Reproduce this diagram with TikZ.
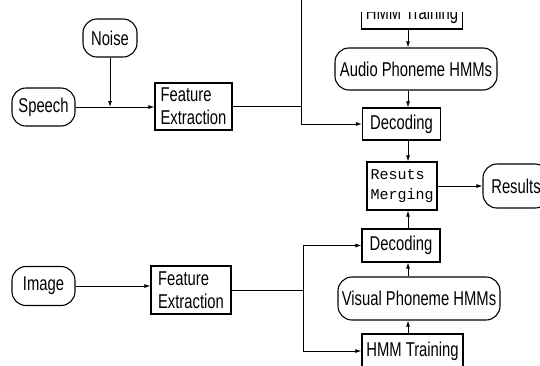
\documentclass[tikz,border=0pt]{standalone}
\usepackage{fontspec}
\setmainfont{Liberation Sans}[FakeStretch=0.74]
\setmonofont{Liberation Mono}
\usetikzlibrary{arrows.meta}
\tikzset{
  blk/.style={draw, line width=1.1pt, inner sep=0pt, font=\fontsize{20}{23}\selectfont},
  rnd/.style={blk, rounded corners=14pt},
  lnk/.style={line width=0.9pt},
  arr/.style={lnk, -{Latex[length=6pt,width=4pt]}}
}
\begin{document}
\begin{tikzpicture}[x=1pt,y=-1pt]
    \useasboundingbox (0,0) rectangle (540,365);
    \clip (0,0) rectangle (540,365);
    \fill[white] (0,0) rectangle (540,365);
    % speech side
    \node[rnd, minimum width=54pt, minimum height=38pt] (noise) at (110,38) {Noise};
    \node[rnd, minimum width=63pt, minimum height=38pt] (speech) at (43.5,107) {Speech};
    \node[blk, minimum width=77pt, minimum height=47pt, align=left] (fe1) at (193.5,106.5) {Feature\\Extraction};
    \begin{scope}
        \clip (0,12) rectangle (540,365);
        \node[blk, minimum width=101pt, minimum height=30pt] (htop) at (412,14) {HMM Training};
    \end{scope}
    \node[rnd, minimum width=162pt, minimum height=42pt] (audio) at (416,69) {Audio Phoneme HMMs};
    \node[blk, minimum width=78pt, minimum height=32pt] (dec1) at (401.5,124) {Decoding};
    % merging
    \node[blk, minimum width=70pt, minimum height=48pt, align=left, font=\ttfamily\fontsize{15}{20}\selectfont] (merge) at (402,186) {Resuts\\Merging};
    \node[rnd, minimum width=66pt, minimum height=44pt] (results) at (516,186) {Results};
    % image side
    \node[rnd, minimum width=63pt, minimum height=39pt] (image) at (43.5,286) {Image};
    \node[blk, minimum width=80pt, minimum height=48pt, align=left] (fe2) at (191,290) {Feature\\Extraction};
    \node[blk, minimum width=78pt, minimum height=33pt] (dec2) at (401,245.5) {Decoding};
    \node[rnd, minimum width=162pt, minimum height=43pt] (visual) at (419,298.5) {Visual Phoneme HMMs};
    \node[blk, minimum width=101pt, minimum height=34pt] (hbot) at (412.5,351) {HMM Training};
    % connectors
    \coordinate (col) at (408,0);
    \coordinate (ta) at (301,0);
    \coordinate (tb) at (303,0);
    \draw[arr] (speech.east) -- (speech.east -| fe1.west);
    \draw[arr] (noise.south) -- (noise.south |- speech.east);
    \draw[lnk] (fe1.east) -| (ta);
    \draw[arr] (fe1.east -| ta) |- (dec1.west);
    \draw[arr] (htop.south -| col) -- (audio.north -| col);
    \draw[arr] (audio.south -| col) -- (dec1.north -| col);
    \draw[arr] (dec1.south -| col) -- (merge.north -| col);
    \draw[arr] (merge.east) -- (merge.east -| results.west);
    \draw[arr] (image.east) -- (image.east -| fe2.west);
    \draw[lnk] (fe2.east) -- (fe2.east -| tb);
    \draw[arr] (fe2.east -| tb) |- (dec2.west);
    \draw[arr] (fe2.east -| tb) |- (hbot.west);
    \draw[arr] (hbot.north -| col) -- (visual.south -| col);
    \draw[arr] (visual.north -| col) -- (dec2.south -| col);
    \draw[arr] (dec2.north -| col) -- (merge.south -| col);
\end{tikzpicture}
\end{document}
